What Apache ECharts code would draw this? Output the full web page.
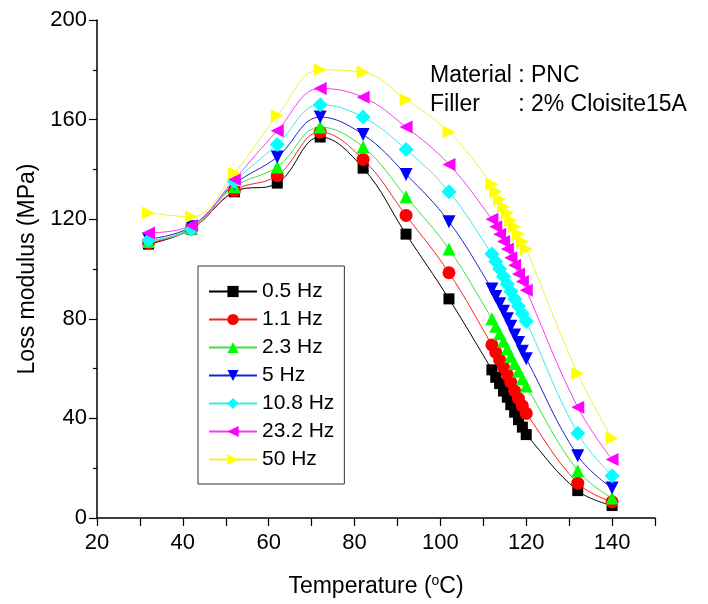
<!DOCTYPE html>
<html>
<head>
<meta charset="utf-8">
<script src="https://cdn.jsdelivr.net/npm/echarts@6/dist/echarts.min.js"></script>
<style>html,body{margin:0;padding:0;background:#fff;}#chart{width:708px;height:604px;}</style>
</head>
<body>
<div id="chart"></div>
<script>
const temps = [32,42,52,62,72,82,92,102,112,112.9,113.8,114.7,115.6,116.4,117.3,118.2,119.1,120,132,140];
const seriesNames = ['0.5 Hz','1.1 Hz','2.3 Hz','5 Hz','10.8 Hz','23.2 Hz','50 Hz'];
const hz05  = [110,116,131,134.5,153,140.5,114,88, 59.5,56.5,54,51,48.5,45.5,42.5,39.5,36.5,33.5, 11,5];
const hz11  = [110.5,116,131.5,137.5,155,144,121.5,98.5, 69.5,66.5,63.5,60.5,57.5,54.5,51,48,45,42, 14,6.5];
const hz23  = [111,116.5,133,141,157,149,129,108, 80,77,74,71,68,65,62,59,56,53, 19,8];
const hz5   = [112,117,134,145,161,154,138,119, 92,89,86,83,80,77,73.5,70.5,67,64, 25,12];
const hz108 = [111.5,116,135,150,166,161,148,131, 106,103,100,97,94,91,88,85,82,79, 34,17];
const hz232 = [114.5,117.5,136,155.5,172.5,169,157,142, 120,117,114,111,108,104.5,101.5,98,95,91.5, 44.5,23.5];
const hz50  = [122.5,121,138.5,161.5,180,179,168,155, 134,131,128,125,122.5,119.5,117,114,111,108, 58,32];
const xTickLabels = [20,40,60,80,100,120,140];
const yTickLabels = [0,40,80,120,160,200];
const annotation1 = 'Material : PNC';
const annotation2 = 'Filler      : 2% Cloisite15A';

const allValues = [hz05,hz11,hz23,hz5,hz108,hz232,hz50];
const styles = [
  {color:'#000000', line:'#000000', symbol:'rect', size:11, rotate:0},
  {color:'#ff0000', line:'#ff2020', symbol:'circle', size:13, rotate:0},
  {color:'#00ff00', line:'#40e040', symbol:'triangle', size:13, rotate:0},
  {color:'#0000ff', line:'#2020d0', symbol:'triangle', size:13, rotate:180},
  {color:'#00ffff', line:'#40e8e8', symbol:'diamond', size:15, rotate:0},
  {color:'#ff00ff', line:'#f040f0', symbol:'triangle', size:13, rotate:90},
  {color:'#ffff00', line:'#f0f040', symbol:'triangle', size:13, rotate:-90}
];
const FONT = "'Liberation Sans', Arial, sans-serif";

const series = allValues.map((vals, i) => ({
  name: seriesNames[i],
  type: 'line',
  smooth: 0.4,
  data: temps.map((t, j) => [t, vals[j]]),
  symbol: styles[i].symbol,
  symbolSize: styles[i].size,
  symbolRotate: styles[i].rotate,
  itemStyle: {color: styles[i].color},
  lineStyle: {color: styles[i].line, width: 1},
  emphasis: {disabled: true},
  animation: false
}));

const chart = echarts.init(document.getElementById('chart'), null, {renderer: 'canvas'});
chart.setOption({
  backgroundColor: '#ffffff',
  animation: false,
  grid: {left: 97, right: 53, top: 20, bottom: 86, containLabel: false},
  xAxis: {
    type: 'value', min: 20, max: 150, interval: 10,
    name: 'Temperature ({sup|o}C)',
    nameLocation: 'middle', nameGap: 56,
    nameTextStyle: {fontFamily: FONT, fontSize: 23, color: '#000',
      rich: {sup: {fontFamily: FONT, fontSize: 14, verticalAlign: 'top', padding: [0,0,12,0], color:'#000'}}},
    axisLine: {show: true, lineStyle: {color: '#000', width: 1.5}},
    axisTick: {show: true, inside: false, length: 8, lineStyle: {color: '#000', width: 1.2}},
    axisLabel: {fontFamily: FONT, fontSize: 22, color: '#000', margin: 14,
      formatter: v => xTickLabels.indexOf(v) >= 0 ? String(v) : ''},
    splitLine: {show: false}
  },
  yAxis: {
    type: 'value', min: 0, max: 200, interval: 40,
    name: 'Loss modulus (MPa)',
    nameLocation: 'middle', nameGap: 46,
    nameTextStyle: {fontFamily: FONT, fontSize: 23, color: '#000'},
    axisLine: {show: true, lineStyle: {color: '#000', width: 1.5}},
    axisTick: {show: true, inside: false, length: 8, lineStyle: {color: '#000', width: 1.2}},
    minorTick: {show: true, splitNumber: 2, length: 4, lineStyle: {color: '#000', width: 1.2}},
    axisLabel: {fontFamily: FONT, fontSize: 22, color: '#000', margin: 10,
      formatter: v => yTickLabels.indexOf(v) >= 0 ? String(v) : ''},
    splitLine: {show: false}
  },
  legend: {
    orient: 'vertical', left: 198, top: 266,
    itemWidth: 48, itemHeight: 14, itemGap: 7,
    padding: [15, 10, 14, 10],
    borderColor: '#333', borderWidth: 1,
    backgroundColor: '#fff',
    textStyle: {fontFamily: FONT, fontSize: 21, color: '#000'},
    data: seriesNames,
    selectedMode: false
  },
  graphic: [
    {type: 'text', left: 430, top: 64, style: {text: annotation1, font: '23px ' + FONT, fill: '#000'}},
    {type: 'text', left: 430, top: 93, style: {text: annotation2, font: '23px ' + FONT, fill: '#000'}}
  ],
  series: series
});
</script>
</body>
</html>
